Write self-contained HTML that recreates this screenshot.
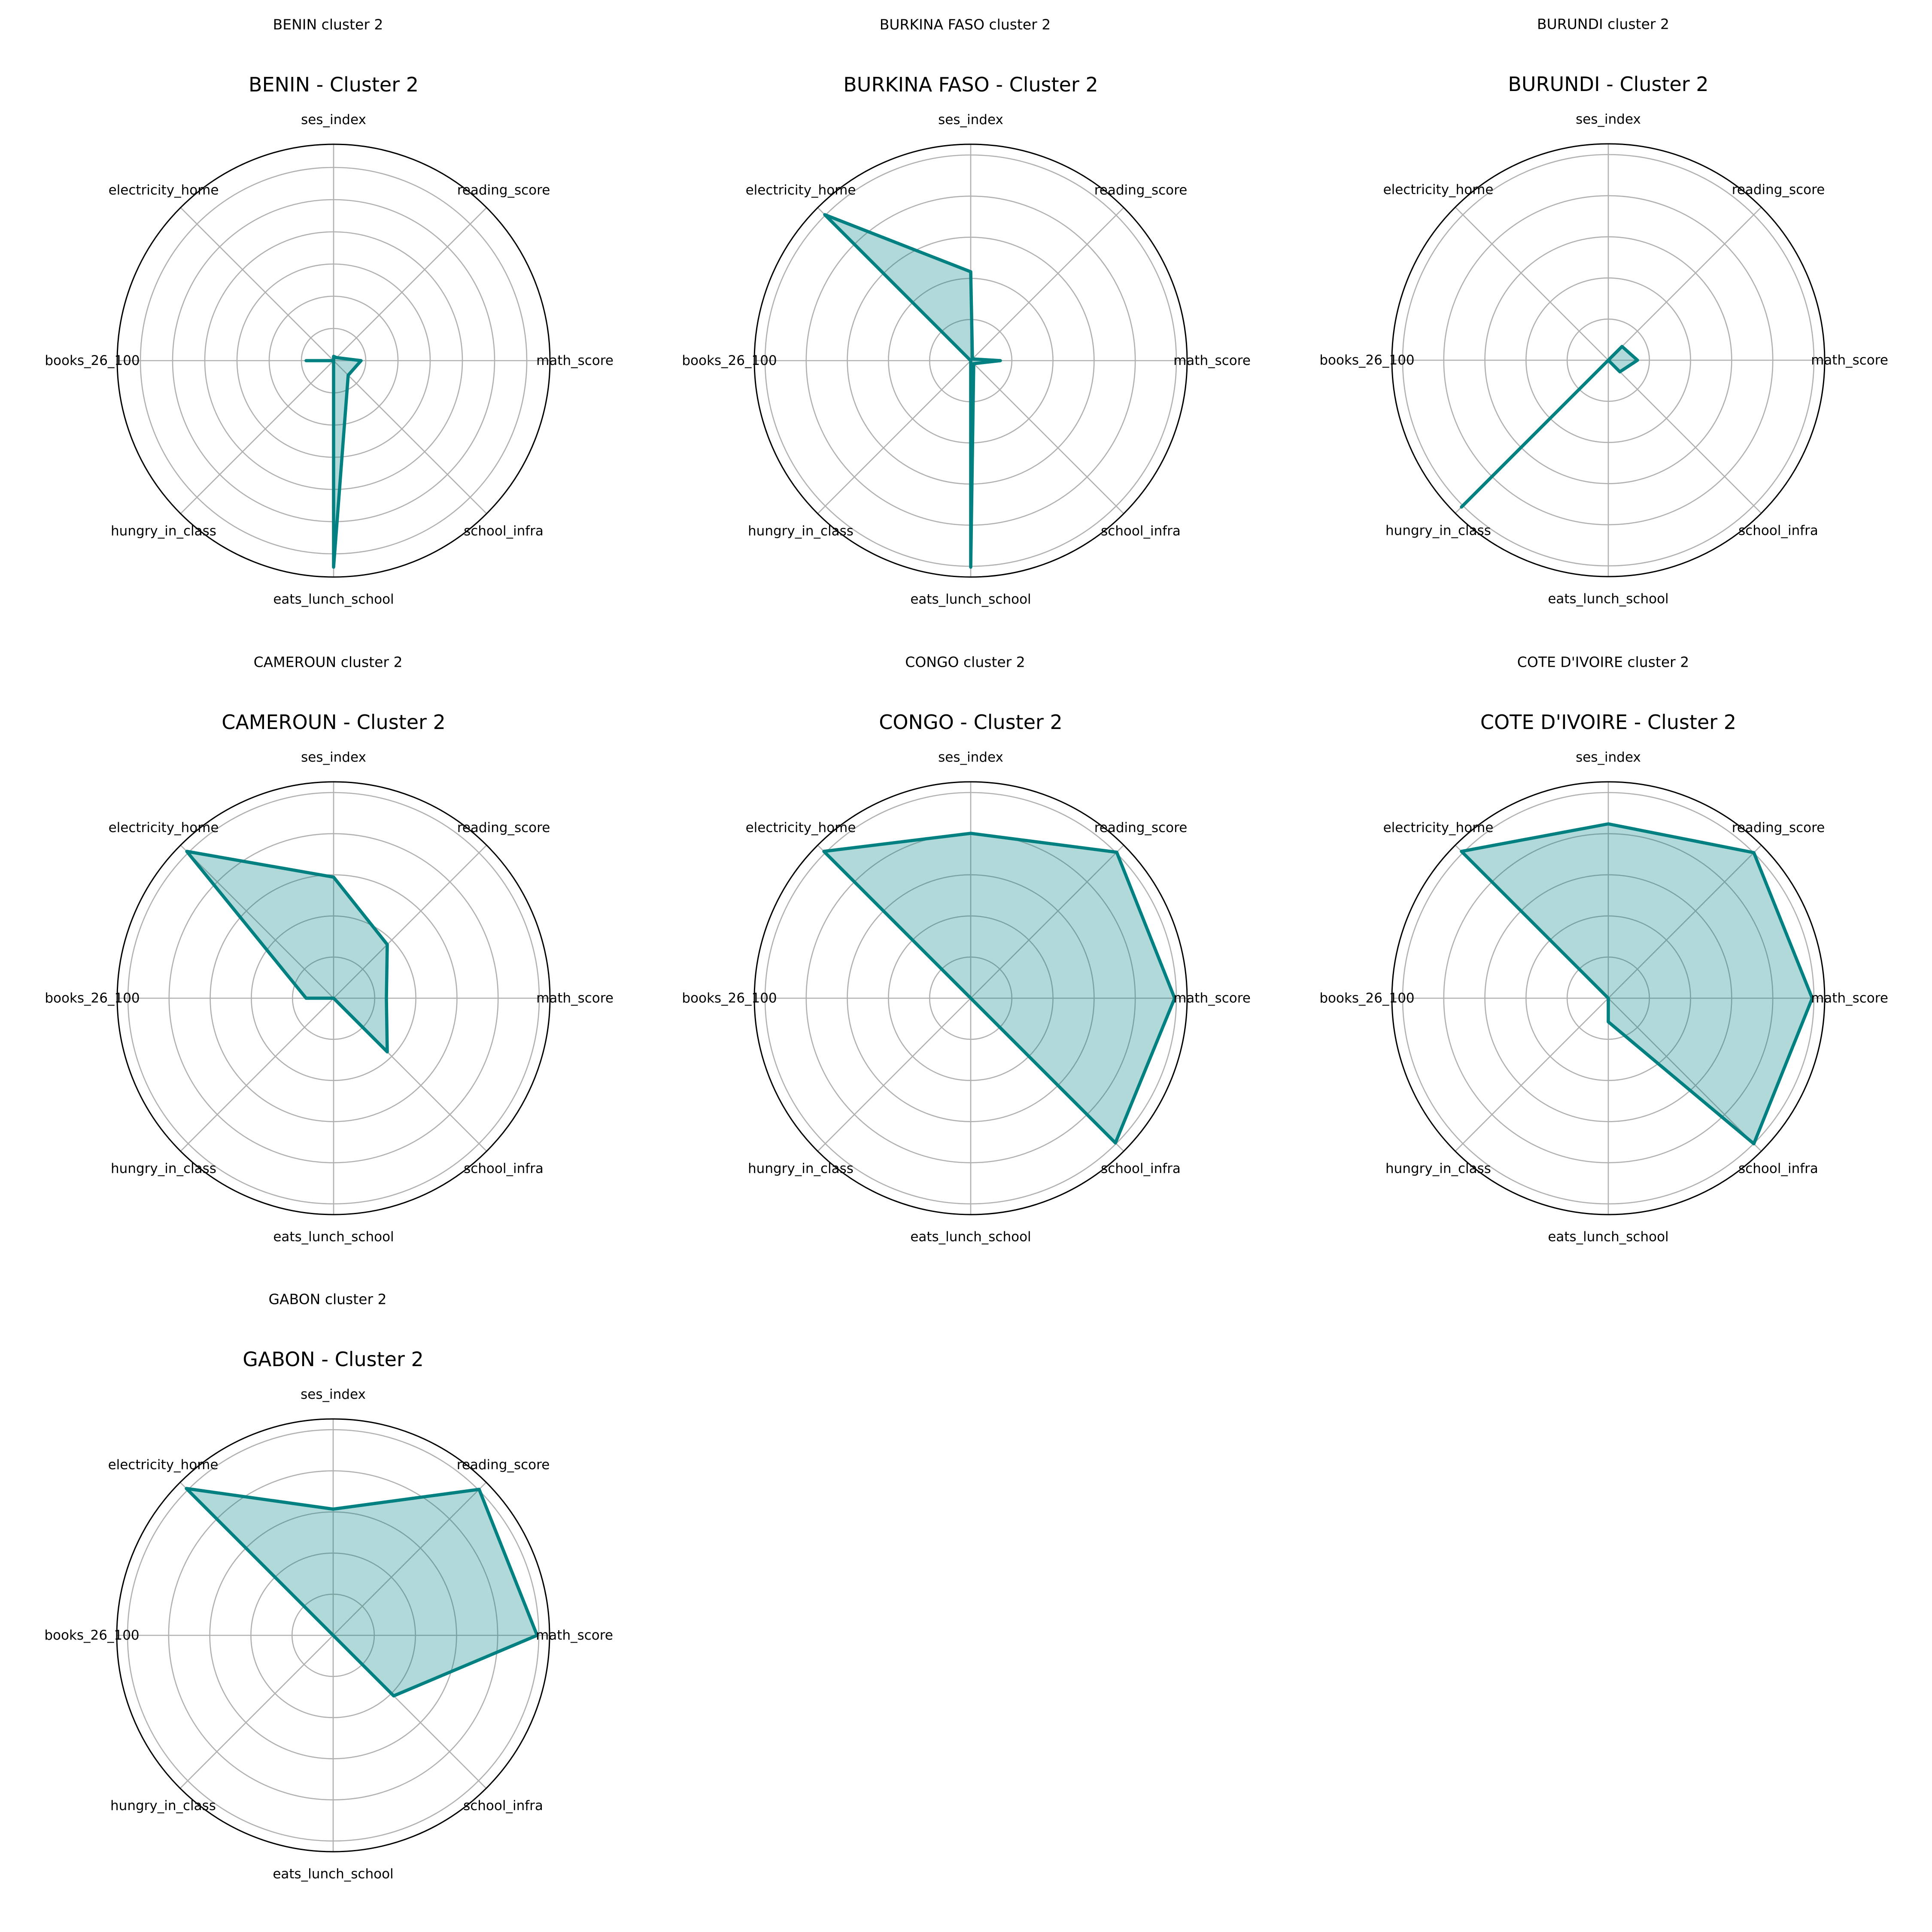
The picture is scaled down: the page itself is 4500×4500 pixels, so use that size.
<!DOCTYPE html>
<html><head><meta charset="utf-8"><style>
html,body{margin:0;padding:0;background:#fff;}
svg{display:block;}
text{font-family:"DejaVu Sans","Liberation Sans",sans-serif;fill:#000;}
.lab{font-size:31px;text-anchor:middle;dominant-baseline:central;}
.sup{font-size:33px;text-anchor:middle;dominant-baseline:central;}
.tit{font-size:46px;text-anchor:middle;dominant-baseline:central;}
.data{fill:rgba(0,128,128,0.3);stroke:#008080;stroke-width:7.5;stroke-linejoin:round;stroke-linecap:round;}
</style></head><body>
<svg width="4500" height="4500" viewBox="0 0 4500 4500" xmlns="http://www.w3.org/2000/svg">
<defs>
<g id="spokes" stroke="#b0b0b0" stroke-width="2.6" fill="none">
<line x1="0" y1="0" x2="0" y2="-504"/><line x1="0" y1="0" x2="356" y2="-356"/>
<line x1="0" y1="0" x2="504" y2="0"/><line x1="0" y1="0" x2="356" y2="356"/>
<line x1="0" y1="0" x2="0" y2="504"/><line x1="0" y1="0" x2="-356" y2="356"/>
<line x1="0" y1="0" x2="-504" y2="0"/><line x1="0" y1="0" x2="-356" y2="-356"/>
</g>
<g id="ring5" stroke="#b0b0b0" stroke-width="2.6" fill="none">
<circle r="95.8"/><circle r="191.6"/><circle r="287.4"/><circle r="383.2"/><circle r="479"/>
</g>
<g id="ring6" stroke="#b0b0b0" stroke-width="2.6" fill="none">
<circle r="75"/><circle r="150"/><circle r="225"/><circle r="300"/><circle r="375"/><circle r="450"/>
</g>
<circle id="spine" r="504" fill="none" stroke="#000" stroke-width="3"/>
<g id="labels">
<text class="lab" x="0" y="-561">ses_index</text>
<text class="lab" x="396" y="-397">reading_score</text>
<text class="lab" x="562" y="0">math_score</text>
<text class="lab" x="396" y="397">school_infra</text>
<text class="lab" x="0" y="556">eats_lunch_school</text>
<text class="lab" x="-396" y="397">hungry_in_class</text>
<text class="lab" x="-562" y="0">books_26_100</text>
<text class="lab" x="-396" y="-397">electricity_home</text>
</g>
</defs>

<g transform="translate(777,840)">
<text class="sup" x="-13" y="-783">BENIN cluster 2</text>
<text class="tit" x="0" y="-643">BENIN - Cluster 2</text>
<use href="#ring6"/><use href="#spokes"/>
<polygon class="data" points="0,-10 7,-7 64,0 34,34 0,481 0,0 -64,0 0,0"/>
<use href="#spine"/><use href="#labels"/>
</g>

<g transform="translate(2261,840)">
<text class="sup" x="-13" y="-783">BURKINA FASO cluster 2</text>
<text class="tit" x="0" y="-643">BURKINA FASO - Cluster 2</text>
<use href="#ring5"/><use href="#spokes"/>
<polygon class="data" points="0,-207 4,-4 69,0 7,7 0,481 0,0 0,0 -340,-340"/>
<use href="#spine"/><use href="#labels"/>
</g>

<g transform="translate(3746,839)">
<text class="sup" x="-12" y="-783">BURUNDI cluster 2</text>
<text class="tit" x="0" y="-643">BURUNDI - Cluster 2</text>
<use href="#ring5"/><use href="#spokes"/>
<polygon class="data" points="0,0 32,-32 68,0 27,27 0,0 -342,342 0,0 0,0"/>
<use href="#spine"/><use href="#labels"/>
</g>

<g transform="translate(777,2325)">
<text class="sup" x="-13" y="-783">CAMEROUN cluster 2</text>
<text class="tit" x="0" y="-643">CAMEROUN - Cluster 2</text>
<use href="#ring5"/><use href="#spokes"/>
<polygon class="data" points="0,-282 125,-125 123,0 125,125 0,0 0,0 -64,0 -342,-342"/>
<use href="#spine"/><use href="#labels"/>
</g>

<g transform="translate(2261,2325)">
<text class="sup" x="-13" y="-783">CONGO cluster 2</text>
<text class="tit" x="0" y="-643">CONGO - Cluster 2</text>
<use href="#ring5"/><use href="#spokes"/>
<polygon class="data" points="0,-384 340,-340 475,0 337,337 0,0 0,0 0,0 -342,-342"/>
<use href="#spine"/><use href="#labels"/>
</g>

<g transform="translate(3746,2325)">
<text class="sup" x="-12" y="-783">COTE D'IVOIRE cluster 2</text>
<text class="tit" x="0" y="-643">COTE D'IVOIRE - Cluster 2</text>
<use href="#ring5"/><use href="#spokes"/>
<polygon class="data" points="0,-406 339,-339 475,0 339,339 0,55 0,0 0,0 -342,-342"/>
<use href="#spine"/><use href="#labels"/>
</g>

<g transform="translate(776,3809)">
<text class="sup" x="-13" y="-783">GABON cluster 2</text>
<text class="tit" x="0" y="-643">GABON - Cluster 2</text>
<use href="#ring5"/><use href="#spokes"/>
<polygon class="data" points="0,-294 340,-340 475,0 141,141 0,0 0,0 0,0 -342,-342"/>
<use href="#spine"/><use href="#labels"/>
</g>
</svg>
</body></html>
